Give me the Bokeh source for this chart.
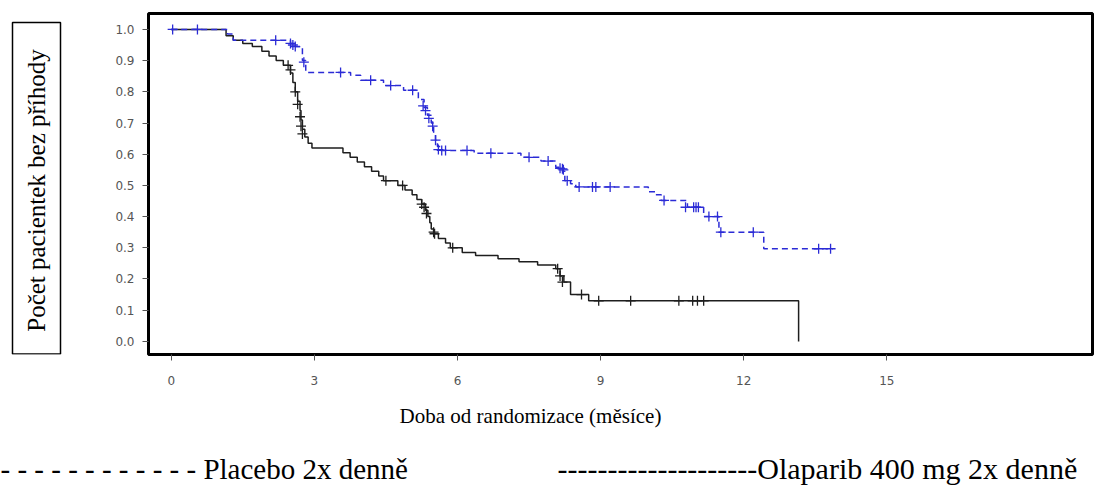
import math
from bokeh.plotting import figure
from bokeh.layouts import row, column
from bokeh.models import Label, FixedTicker, Range1d, NumeralTickFormatter, BoxAnnotation
from bokeh.embed import file_html
from bokeh.resources import INLINE

# ---- data (months, survival proportion) ----
solid_time = [0, 1.15, 1.3, 1.5, 1.7, 1.9, 2.05, 2.2, 2.35, 2.5, 2.55, 2.6, 2.65, 2.7, 2.72,
              2.75, 2.8, 2.87, 2.95, 3.6, 3.75, 3.9, 4.05, 4.2, 4.35, 4.45, 4.75, 4.9, 5.05,
              5.15, 5.25, 5.33, 5.38, 5.42, 5.45, 5.5, 5.6, 5.75, 5.85, 6.1, 6.38, 6.85,
              7.29, 7.68, 8.06, 8.15, 8.23, 8.37, 8.75, 13.15]
solid_surv = [1.0, 0.98, 0.965, 0.955, 0.945, 0.93, 0.915, 0.9, 0.885, 0.86, 0.83, 0.80, 0.77,
              0.74, 0.71, 0.68, 0.655, 0.635, 0.62, 0.605, 0.59, 0.575, 0.56, 0.545, 0.53,
              0.515, 0.50, 0.485, 0.47, 0.455, 0.44, 0.42, 0.40, 0.38, 0.36, 0.345, 0.33,
              0.315, 0.30, 0.285, 0.275, 0.265, 0.255, 0.245, 0.233, 0.21, 0.19, 0.15, 0.13, 0.0]
solid_cens_time = [2.45, 2.5, 2.6, 2.65, 2.7, 2.72, 2.75, 4.5, 4.85, 5.25, 5.3, 5.35, 5.5,
                   5.52, 5.9, 8.1, 8.15, 8.2, 8.6, 8.96, 9.63, 10.64, 10.93, 11.03, 11.16]
solid_cens_surv = [0.885, 0.87, 0.80, 0.76, 0.72, 0.69, 0.665, 0.515, 0.50, 0.44, 0.43, 0.41,
                   0.35, 0.345, 0.30, 0.233, 0.21, 0.19, 0.15, 0.13, 0.13, 0.13, 0.13, 0.13, 0.13]

dashed_time = [0, 1.18, 1.3, 2.5, 2.6, 2.75, 2.82, 3.76, 3.97, 4.45, 4.87, 5.18, 5.3, 5.37,
               5.45, 5.5, 5.54, 5.58, 5.65, 6.35, 7.33, 7.75, 8.06, 8.2, 8.25, 8.37, 8.48,
               10.0, 10.15, 10.27, 10.82, 11.16, 11.48, 12.42, 13.87]
dashed_surv = [1.0, 0.985, 0.965, 0.955, 0.945, 0.90, 0.862, 0.853, 0.837, 0.82, 0.805, 0.775,
               0.75, 0.725, 0.70, 0.67, 0.645, 0.625, 0.612, 0.603, 0.59, 0.578, 0.558, 0.545,
               0.515, 0.505, 0.495, 0.48, 0.47, 0.452, 0.43, 0.40, 0.35, 0.297, 0.297]
dashed_cens_time = [0.03, 0.55, 2.19, 2.5, 2.55, 2.6, 2.78, 3.55, 4.18, 4.6, 5.06, 5.28, 5.33,
                    5.4, 5.48, 5.54, 5.6, 5.67, 5.75, 6.2, 6.7, 7.5, 7.9, 8.15, 8.2, 8.22,
                    8.3, 8.55, 8.83, 8.9, 9.2, 10.33, 10.78, 10.95, 11.0, 11.05, 11.27, 11.45,
                    11.52, 12.2, 13.57, 13.82]
dashed_cens_surv = [1.0, 1.0, 0.965, 0.955, 0.95, 0.945, 0.895, 0.862, 0.837, 0.82, 0.805,
                    0.755, 0.74, 0.715, 0.69, 0.645, 0.615, 0.612, 0.612, 0.612, 0.603, 0.59,
                    0.578, 0.555, 0.553, 0.55, 0.515, 0.495, 0.495, 0.495, 0.495, 0.452, 0.43,
                    0.43, 0.43, 0.43, 0.40, 0.40, 0.35, 0.35, 0.297, 0.297]

x_ticks = [0, 3, 6, 9, 12, 15]
y_ticks = [0.0, 0.1, 0.2, 0.3, 0.4, 0.5, 0.6, 0.7, 0.8, 0.9, 1.0]

y_title = "Počet pacientek bez příhody"
x_title = "Doba od randomizace (měsíce)"
legend_a = "- - - - - - - - - - - - Placebo 2x denně"
legend_b = "--------------------Olaparib 400 mg 2x denně"

BLACK = "#1e1e1e"
BLUE = "#2b2bd6"
SERIF = "Liberation Serif"

TOP_H = 398
LEFT_W = 68
W = 1102
H = 497
MB_TOP = 13
MB_BOTTOM = 44

# ---- main plot ----
p = figure(width=W - LEFT_W, height=TOP_H, output_backend="svg", toolbar_location=None,
           title=None,
           x_range=Range1d(-0.476, 19.31), y_range=Range1d(-0.042, 1.051),
           min_border_left=80, min_border_right=10, min_border_top=MB_TOP,
           min_border_bottom=MB_BOTTOM)
p.grid.visible = False
p.outline_line_color = "black"
p.outline_line_width = 3
p.background_fill_color = "white"
p.border_fill_color = "white"

for ax in (p.xaxis[0], p.yaxis[0]):
    ax.axis_line_color = None
    ax.major_tick_line_color = "#555555"
    ax.major_tick_line_width = 1
    ax.major_tick_in = 0
    ax.major_tick_out = 6
    ax.minor_tick_line_color = None
    ax.major_label_text_font = "DejaVu Sans"
    ax.major_label_text_font_size = "12px"
    ax.major_label_text_color = "#555555"
p.xaxis.ticker = FixedTicker(ticks=x_ticks)
p.yaxis.ticker = FixedTicker(ticks=y_ticks)
p.yaxis.formatter = NumeralTickFormatter(format="0.0")
p.xaxis.major_label_standoff = 15
p.yaxis.major_label_standoff = 8

p.step(solid_time, solid_surv, mode="after", line_color=BLACK, line_width=1.5)
p.scatter(solid_cens_time, solid_cens_surv, marker="cross", size=10, line_color=BLACK, line_width=1.3)
p.step(dashed_time, dashed_surv, mode="after", line_color=BLUE, line_width=1.5, line_dash="6 4")
p.scatter(dashed_cens_time, dashed_cens_surv, marker="cross", size=10, line_color=BLUE, line_width=1.3)

# ---- y title panel (frame aligned with main frame: data y = TOP_H - page y) ----
yf = figure(width=LEFT_W, height=TOP_H, output_backend="svg", toolbar_location=None,
            title=None, x_range=Range1d(0, LEFT_W),
            y_range=Range1d(MB_BOTTOM, TOP_H - MB_TOP),
            x_axis_location=None, y_axis_location=None,
            min_border_left=0, min_border_right=0, min_border_top=MB_TOP,
            min_border_bottom=MB_BOTTOM)
yf.grid.visible = False
yf.outline_line_color = None
yf.border_fill_color = "white"
yf.add_layout(BoxAnnotation(left=12, right=60, top=TOP_H - 22, bottom=TOP_H - 353.5,
                            fill_alpha=0, line_color="black", line_alpha=1.0, line_width=1.5))
yf.add_layout(Label(x=36, y=TOP_H - 190, text=y_title, angle=math.pi / 2,
                    text_align="center", text_baseline="middle",
                    text_font=SERIF, text_font_size="25px", text_color="black"))

# ---- bottom text panel (data = page coords, y flipped) ----
bh = H - TOP_H
bf = figure(width=W, height=bh, output_backend="svg", toolbar_location=None, title=None,
            x_range=Range1d(0, W), y_range=Range1d(0, bh),
            x_axis_location=None, y_axis_location=None,
            min_border_left=0, min_border_right=0, min_border_top=0, min_border_bottom=0)
bf.grid.visible = False
bf.outline_line_color = None
bf.border_fill_color = "white"
bf.add_layout(Label(x=530, y=H - 415, text=x_title, text_align="center", text_baseline="middle",
                    text_font=SERIF, text_font_size="21px", text_color="black"))
bf.add_layout(Label(x=0, y=H - 468, text=legend_a, text_align="left", text_baseline="middle",
                    text_font=SERIF, text_font_size="29px", text_color="black"))
bf.add_layout(Label(x=557, y=H - 468, text=legend_b, text_align="left", text_baseline="middle",
                    text_font=SERIF, text_font_size="30px", text_color="black"))

layout = column(row(yf, p, spacing=0), bf, spacing=0)
open("out.html", "w").write(file_html(layout, INLINE))
